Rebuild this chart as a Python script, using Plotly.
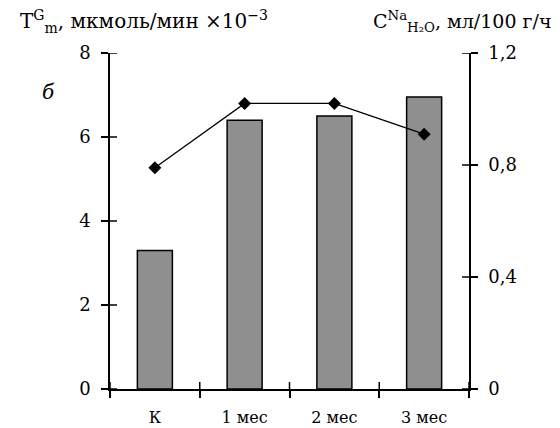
import plotly.graph_objects as go

categories = ["К", "1 мес", "2 мес", "3 мес"]
tgm_values = [3.3, 6.4, 6.5, 6.95]         # left axis, bars
cna_values = [0.79, 1.02, 1.02, 0.91]      # right axis, line
left_ticks = [0, 2, 4, 6, 8]
right_tickvals = [0, 0.4, 0.8, 1.2]
right_ticktext = ["0", "0,4", "0,8", "1,2"]
left_title = "T<sup>G</sup><sub>m</sub>, мкмоль/мин ×10<sup>−3</sup>"
right_title = "C<sup>Na</sup><sub>H₂O</sub>, мл/100 г/ч"
panel_label = "б"

FONT = "DejaVu Serif"
n = len(categories)
bounds = [i - 0.5 for i in range(n + 1)]
TICK = dict(color="black", width=1.5)

W, H = 552, 420
ML, MR, MT, MB = 102, 91, 45, 39
plot_w, plot_h = W - ML - MR, H - MT - MB
YMAX_L, YMAX_R = 8, 1.2
TL = 7  # tick half-length in px
dx = TL * n / plot_w          # tick length in category units
dy = TL * YMAX_L / plot_h     # tick length in left-axis units

fig = go.Figure()
fig.add_trace(go.Bar(
    x=categories, y=tgm_values, width=0.39,
    marker=dict(color="#8f8f8f", line=dict(color="black", width=1.5)),
    xaxis="x", yaxis="y", showlegend=False,
))
fig.add_trace(go.Scatter(
    x=categories, y=cna_values, mode="lines+markers",
    line=dict(color="black", width=1.3),
    marker=dict(symbol="diamond", size=10, color="black"),
    xaxis="x", yaxis="y2", showlegend=False,
))

axis_common = dict(showgrid=False, zeroline=False, linecolor="black", linewidth=1.5,
                   tickcolor="black", tickwidth=1.5, ticklen=TL, showline=True,
                   ticks="outside", automargin=False)

# inner halves of the crossing tick marks
shapes = []
for v in left_ticks:
    shapes.append(dict(type="line", xref="x", x0=-0.5, x1=-0.5 + dx,
                       yref="y", y0=v, y1=v, line=TICK, layer="above"))
for v in right_tickvals:
    shapes.append(dict(type="line", xref="x", x0=n - 0.5 - dx, x1=n - 0.5,
                       yref="y2", y0=v, y1=v, line=TICK, layer="above"))
for b in bounds:
    shapes.append(dict(type="line", xref="x", x0=b, x1=b, yref="y", y0=0, y1=dy,
                       line=TICK, layer="above"))

fig.update_layout(
    width=W, height=H,
    margin=dict(l=ML, r=MR, t=MT, b=MB, autoexpand=False),
    paper_bgcolor="white", plot_bgcolor="white",
    font=dict(family=FONT, size=18, color="black"),
    xaxis=dict(type="category", categoryarray=categories, range=[-0.5, n - 0.5],
               tickson="boundaries", tickfont=dict(size=16), ticklabelstandoff=13,
               **axis_common),
    yaxis=dict(range=[0, YMAX_L], tickvals=left_ticks, tickfont=dict(size=18),
               ticklabelstandoff=7, **axis_common),
    yaxis2=dict(overlaying="y", anchor="x", side="right", range=[0, YMAX_R],
                tickvals=right_tickvals, ticktext=right_ticktext, tickfont=dict(size=18),
                ticklabelstandoff=7, **axis_common),
    shapes=shapes,
    annotations=[
        dict(text=left_title, xref="paper", yref="paper", x=-0.256, y=1.095,
             xanchor="left", yanchor="middle", showarrow=False, font=dict(size=20)),
        dict(text=right_title, xref="paper", yref="paper", x=1.236, y=1.095,
             xanchor="right", yanchor="middle", showarrow=False, font=dict(size=19)),
        dict(text="<i>" + panel_label + "</i>", xref="paper", yref="paper", x=-0.170, y=0.884,
             xanchor="center", yanchor="middle", showarrow=False, font=dict(size=20)),
    ],
)

fig.write_html("out.html")
